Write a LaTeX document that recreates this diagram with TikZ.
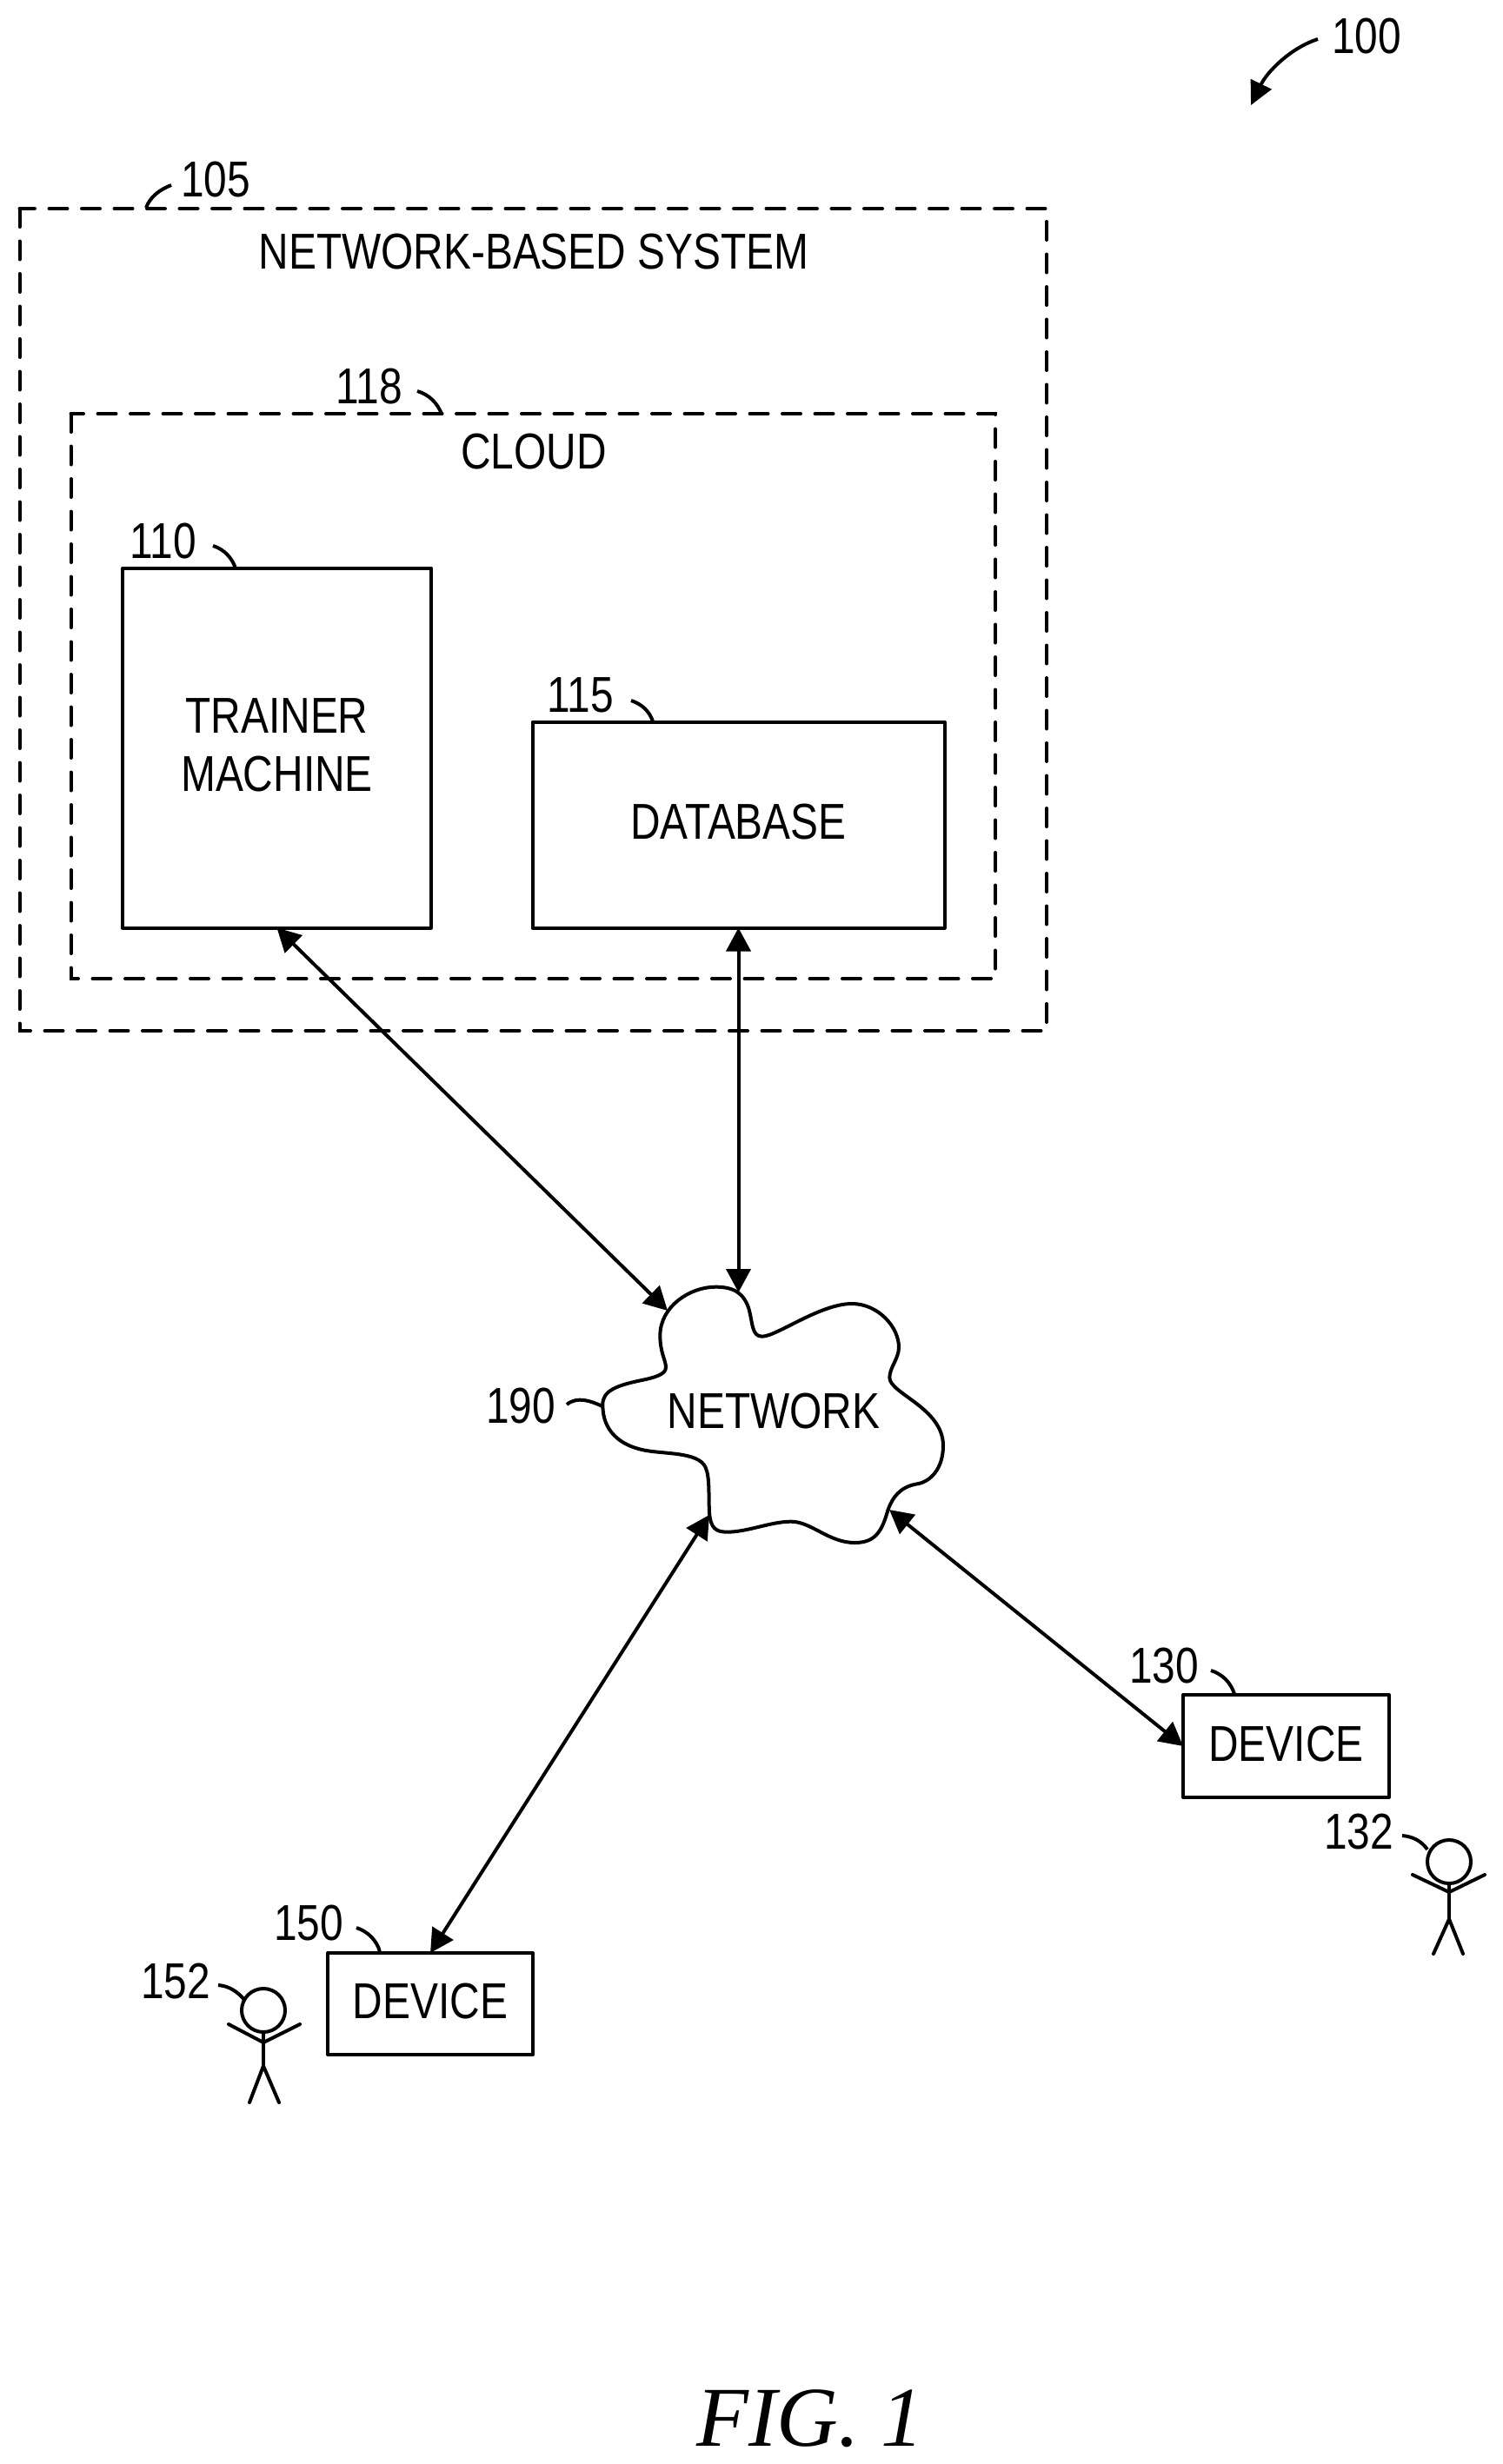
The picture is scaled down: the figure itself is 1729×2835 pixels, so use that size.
\documentclass[tikz,border=0pt]{standalone}
\usepackage{fontspec}
\setmainfont{Liberation Sans}[FakeStretch=0.825]
\newfontfamily\figfont{Liberation Serif}
\usetikzlibrary{arrows.meta}
\tikzset{
  every node/.style={inner sep=0pt,outer sep=0pt,font=\fontsize{58}{67}\selectfont},
  solidbox/.style={draw,line width=4pt,line join=round,align=center},
  dashbox/.style={draw,line width=4pt,line cap=round,dash pattern=on 21pt off 16.5pt},
  link/.style={line width=4pt,>={Triangle[length=27pt,width=28pt]},<->},
  leader/.style={line width=4pt},
  limb/.style={line width=4pt,line cap=round},
  headring/.style={draw,circle,line width=4pt,minimum size=50pt},
}
\begin{document}
\begin{tikzpicture}[x=1pt,y=-1pt]
\useasboundingbox (0,0) rectangle (1729,2835);
% dashed containers
\coordinate (outerA) at (22.5,240);
\coordinate (outerB) at (1204,1186);
\coordinate (innerA) at (81.5,476);
\coordinate (innerB) at (1145,1126);
\draw[dashbox] (outerA) rectangle (outerB);
\draw[dashbox] (innerA) rectangle (innerB);
\node (sysT) at (614,290) {NETWORK-BASED SYSTEM};
\node (cloudT) at (614,520) {CLOUD};
% boxes
\node[solidbox,minimum width=355pt,minimum height=414pt,text depth=7pt] (trainer) at (318.5,860.5) {TRAINER\\MACHINE};
\node[solidbox,minimum width=474pt,minimum height=237pt,text depth=7pt] (db) at (849.5,949) {DATABASE};
\node[solidbox,minimum width=237pt,minimum height=118pt,text depth=5pt] (devA) at (1479.5,2009) {DEVICE};
\node[solidbox,minimum width=236pt,minimum height=117pt,text depth=6pt] (devB) at (495,2305.5) {DEVICE};
% cloud
\begin{scope}[shift={(680,1440)},x=0.33333pt,y=-0.33333pt]
\draw[line width=4pt,line join=round] (40,530)
 .. controls (38,480) and (90,462) .. (170,445)
 .. controls (215,436) and (258,425) .. (258,400)
 .. controls (258,375) and (238,350) .. (238,290)
 .. controls (238,190) and (340,122) .. (430,122)
 .. controls (500,122) and (530,150) .. (545,200)
 .. controls (558,250) and (555,293) .. (590,293)
 .. controls (640,293) and (790,180) .. (900,180)
 .. controls (990,180) and (1062,260) .. (1062,330)
 .. controls (1062,370) and (1030,400) .. (1030,435)
 .. controls (1030,490) and (1215,540) .. (1215,670)
 .. controls (1215,750) and (1170,795) .. (1125,802)
 .. controls (1065,812) and (1040,850) .. (1025,890)
 .. controls (1005,960) and (985,1005) .. (910,1005)
 .. controls (820,1005) and (760,932) .. (690,932)
 .. controls (620,932) and (540,968) .. (470,968)
 .. controls (430,968) and (412,955) .. (408,900)
 .. controls (405,840) and (410,780) .. (395,745)
 .. controls (370,690) and (250,700) .. (180,685)
 .. controls (100,668) and (40,620) .. (40,530) -- cycle;
\end{scope}
\node (net) at (890,1624) {NETWORK};
\coordinate (netA) at (768,1508);
\coordinate (netB) at (849.5,1487);
\coordinate (netC) at (816,1743);
\coordinate (netD) at (1023,1737);
% connectors
\draw[link] (trainer.south) -- (netA);
\draw[link] (db.south) -- (netB);
\draw[link] (netC) -- (devB.north);
\draw[link] (netD) -- (devA.west);
% reference numbers
\node (n100) at (1572,42) {100};
\node (n105) at (248,207) {105};
\node (n118) at (425,445) {118};
\node (n110) at (188,623) {110};
\node (n115) at (668,800) {115};
\node (n130) at (1339,1917) {130};
\node (n132) at (1563,2108) {132};
\node (n150) at (355,2213) {150};
\node (n152) at (202,2280) {152};
\node (n190) at (599,1618) {190};
% leaders
\coordinate (l100a) at (1516,45);
\coordinate (l100b) at (1439,121);
\draw[line width=4pt,-{Triangle[length=27pt,width=26pt]}] (l100a) .. controls (1485,55) and (1458,82) .. (l100b);
\coordinate (l105a) at (168,239);
\coordinate (l105b) at (197,213);
\draw[leader] (l105a) .. controls (173,226) and (184,218) .. (l105b);
\coordinate (l118a) at (480,450);
\coordinate (l118b) at (508,476);
\draw[leader] (l118a) .. controls (494,454) and (503,464) .. (l118b);
\coordinate (l110a) at (245,628);
\coordinate (l110b) at (271,654);
\draw[leader] (l110a) .. controls (258,632) and (267,642) .. (l110b);
\coordinate (l115a) at (726,806);
\coordinate (l115b) at (751,830);
\draw[leader] (l115a) .. controls (738,810) and (747,818) .. (l115b);
\coordinate (l130a) at (1393,1922);
\coordinate (l130b) at (1420,1949);
\draw[leader] (l130a) .. controls (1406,1926) and (1416,1936) .. (l130b);
\coordinate (l150a) at (410,2218);
\coordinate (l150b) at (437,2246);
\draw[leader] (l150a) .. controls (423,2222) and (434,2233) .. (l150b);
\coordinate (l190a) at (652,1616);
\coordinate (l190b) at (693,1618);
\draw[leader] (l190a) .. controls (664,1606) and (680,1612) .. (l190b);
% person 132
\node[headring] (headA) at (1667,2142) {};
\coordinate (hipA) at (1667,2208);
\coordinate (shA) at (1667,2177);
\coordinate (armA1) at (1625,2157);
\coordinate (armA2) at (1708,2157);
\coordinate (legA1) at (1649,2248);
\coordinate (legA2) at (1683,2248);
\draw[limb] (headA.south) -- (hipA);
\draw[limb] (armA1) -- (shA) -- (armA2);
\draw[limb] (legA1) -- (hipA) -- (legA2);
\coordinate (l132a) at (1613,2112);
\draw[leader] (l132a) .. controls (1626,2113) and (1636,2119) .. (headA.west |- 0,2128);
% person 152
\node[headring] (headB) at (303,2313) {};
\coordinate (hipB) at (303,2377);
\coordinate (shB) at (303,2350);
\coordinate (armB1) at (263,2329);
\coordinate (armB2) at (345,2329);
\coordinate (legB1) at (287,2419);
\coordinate (legB2) at (321,2419);
\draw[limb] (headB.south) -- (hipB);
\draw[limb] (armB1) -- (shB) -- (armB2);
\draw[limb] (legB1) -- (hipB) -- (legB2);
\coordinate (l152a) at (251,2284);
\coordinate (l152b) at (282,2302);
\draw[leader] (l152a) .. controls (264,2285) and (274,2292) .. (l152b);
% caption
\node[font=\figfont\itshape\fontsize{98}{100}\selectfont] (fig) at (932,2783) {FIG. 1};
\end{tikzpicture}
\end{document}
